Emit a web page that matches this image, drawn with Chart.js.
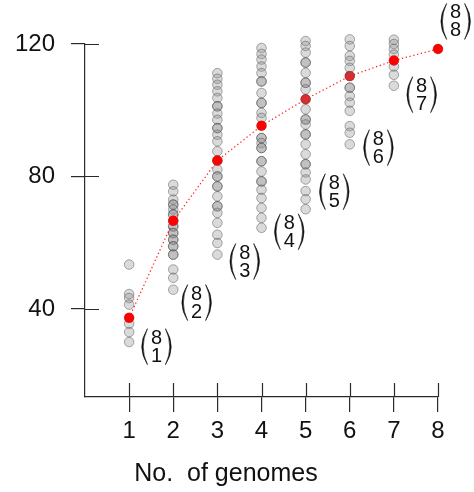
<!DOCTYPE html>
<html>
<head>
<meta charset="utf-8">
<script src="https://cdn.jsdelivr.net/npm/chart.js@4"></script>
<style>
  html, body { margin: 0; padding: 0; background: #fff; }
  #wrap { width: 474px; height: 492px; }
</style>
</head>
<body>
<div id="wrap"><canvas id="myChart" width="474" height="492"></canvas></div>
<script>
// Данные: по одной колонке на число геномов
const genomeCounts = [1, 2, 3, 4, 5, 6, 7, 8];
const gray1 = [53.4, 44.5, 43.3, 41.3, 37.3, 35.5, 33.0, 30.0];
const gray2 = [77.5, 75.5, 73, 71.5, 71.5, 70, 68.5, 68.5, 66.6, 66.6, 64.9, 64.9, 62.9, 62.9,
               60.9, 60.9, 58.9, 58.9, 56.4, 56.4, 51.9, 49.4, 45.8];
const gray3 = [111.2, 109.5, 107.7, 105.7, 103.7, 101.2, 101.2, 99, 97.1, 94.6, 94.6, 92.6, 90.6, 87.6, 84.8,
               84.8, 82.1, 80, 80, 77, 77, 74, 71, 71, 69, 66, 62.4, 59.9, 56.4];
const gray4 = [118.8, 117, 115.3, 113.2, 111.2, 108.7, 108.7, 105.2, 102.2, 102.2, 99.2, 97.7, 95.3,
               91.6, 91.6, 90.1, 88.6, 88.6, 84.6, 84.6, 81.5, 78.5, 78.5, 76, 73.5, 70.5, 67.5, 64.5];
const gray5 = [124.9, 123.4, 120.9, 119.4, 117.4, 114.4, 114.4, 111.3, 108.3, 108.3, 106.3, 103.3,
               100.3, 97.2, 97.2, 95.7, 92.7, 92.7, 89.7, 86.7, 83.7, 83.7, 81.2, 79.1, 75.6, 73.1, 70.1];
const gray6 = [121.4, 119.4, 116.4, 114.9, 112.8, 110.3, 106.8, 106.8, 104.3, 102.3, 99.8, 95.2, 93.2, 89.7];
const gray7 = [121.3, 120.0, 118.5, 116.8, 115.0, 113.2, 110.7, 107.4];
const gray8 = [118.5];
const meanValues = [37.3, 66.6, 84.8, 95.3, 103.3, 110.3, 115.0, 118.5];
const yTickValues = [40, 80, 120];
const binomTop = ['8', '8', '8', '8', '8', '8', '8', '8'];
const binomBottom = ['1', '2', '3', '4', '5', '6', '7', '8'];
// позиции подписей-биномов в координатах данных
const binomX = [1.62, 2.53, 3.62, 4.63, 5.65, 6.65, 7.63, 8.4];
const binomY = [28.6, 41.9, 54.3, 63.3, 75.4, 88.7, 104.7, 126.8];

const grayCols = [gray1, gray2, gray3, gray4, gray5, gray6, gray7, gray8];
const FONT = "'Liberation Sans', 'DejaVu Sans', sans-serif";
const AXIS_COLOR = '#2a2a2a';

const datasets = grayCols.map(function(col, i) {
    return {
        type: 'scatter',
        data: col.map(v => ({ x: genomeCounts[i], y: v })),
        backgroundColor: 'rgba(140,140,140,0.32)',
        borderColor: 'rgba(60,60,60,0.42)',
        borderWidth: 1,
        pointRadius: 4.8,
        // колонки 5 и 6 рисуются поверх красных точек
        order: (i === 4 || i === 5) ? 0 : 2,
        clip: false
    };
});
datasets.push({
    type: 'line',
    data: meanValues.map((v, i) => ({ x: genomeCounts[i], y: v })),
    borderColor: 'rgba(255,0,0,0.9)',
    borderWidth: 1.2,
    borderDash: [1.3, 2.6],
    backgroundColor: '#ff0000',
    pointBackgroundColor: '#ff0000',
    pointBorderColor: '#ff0000',
    pointBorderWidth: 0,
    pointRadius: 5,
    fill: false,
    tension: 0,
    order: 1,
    clip: false
});

// Плагин: внутренние засечки осей, подпись оси X и биномиальные коэффициенты
const extras = {
    id: 'extras',
    afterDraw(chart) {
        const c = chart.ctx;
        const xs = chart.scales.x, ys = chart.scales.y;
        const area = chart.chartArea;
        c.save();
        c.strokeStyle = AXIS_COLOR;
        c.lineWidth = 1.2;
        c.beginPath();
        xs.ticks.forEach(t => {
            const px = Math.round(xs.getPixelForValue(t.value)) + 0.5;
            c.moveTo(px, area.bottom);
            c.lineTo(px, area.bottom - 14);
        });
        ys.ticks.forEach(t => {
            const py = Math.round(ys.getPixelForValue(t.value)) + 0.5;
            c.moveTo(area.left, py);
            c.lineTo(area.left + 14, py);
        });
        c.stroke();

        c.fillStyle = '#111';
        c.font = '25px ' + FONT;
        c.textAlign = 'center';
        c.textBaseline = 'middle';
        c.fillText('No.  of genomes', area.left + 141, 474);

        binomTop.forEach((top, i) => {
            const cx = xs.getPixelForValue(binomX[i]);
            const cy = ys.getPixelForValue(binomY[i]);
            c.fillStyle = '#111';
            c.font = '20px ' + FONT;
            c.textAlign = 'center';
            c.textBaseline = 'middle';
            c.fillText(top, cx, cy - 8.5);
            c.fillText(binomBottom[i], cx, cy + 9.5);
            // скобки: заливка полумесяцем, толще в середине
            c.beginPath();
            c.moveTo(cx - 9, cy - 18);
            c.quadraticCurveTo(cx - 20.5, cy, cx - 9, cy + 18);
            c.quadraticCurveTo(cx - 17.5, cy, cx - 9, cy - 18);
            c.moveTo(cx + 9, cy - 18);
            c.quadraticCurveTo(cx + 20.5, cy, cx + 9, cy + 18);
            c.quadraticCurveTo(cx + 17.5, cy, cx + 9, cy - 18);
            c.fill();
            c.strokeStyle = '#111';
            c.lineWidth = 0.6;
            c.stroke();
        });
        c.restore();
    }
};

const ctx = document.getElementById('myChart').getContext('2d');
const chart = new Chart(ctx, {
    data: { datasets: datasets },
    plugins: [extras],
    options: {
        responsive: false,
        animation: false,
        layout: { padding: { left: 0, right: 36, top: 44, bottom: 0 } },
        plugins: {
            legend: { display: false },
            tooltip: { enabled: false }
        },
        scales: {
            x: {
                type: 'linear',
                min: 0,
                max: 8,
                afterBuildTicks: s => { s.ticks = genomeCounts.map(v => ({ value: v })); },
                afterFit: s => { s.height = 95; },
                ticks: { color: '#111', font: { size: 24, family: FONT }, padding: 5, maxRotation: 0 },
                grid: { drawOnChartArea: false, drawTicks: true, tickLength: 15, color: AXIS_COLOR, lineWidth: 1.2 },
                border: { display: true, color: AXIS_COLOR, width: 1.2 }
            },
            y: {
                type: 'linear',
                min: 13.4,
                max: 120,
                afterBuildTicks: s => { s.ticks = yTickValues.map(v => ({ value: v })); },
                afterFit: s => { s.width = 85; },
                ticks: { color: '#111', font: { size: 24, family: FONT }, padding: 16 },
                grid: { drawOnChartArea: false, drawTicks: true, tickLength: 14, color: AXIS_COLOR, lineWidth: 1.2 },
                border: { display: true, color: AXIS_COLOR, width: 1.2 }
            }
        }
    }
});
</script>
</body>
</html>
